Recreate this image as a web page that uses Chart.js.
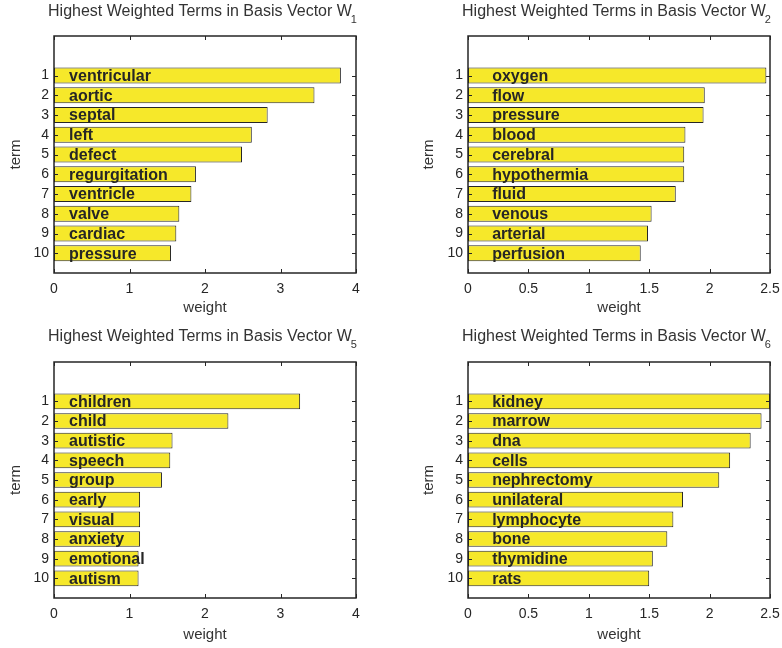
<!DOCTYPE html>
<html lang="en">
<head>
    <meta charset="UTF-8">
    <title>Highest Weighted Terms in Basis Vectors</title>
    <script src="https://cdn.jsdelivr.net/npm/chart.js"></script>
    <style>
        body {
            margin: 0;
            padding: 0;
            background: #fff;
        }

        .page {
            position: relative;
            width: 782px;
            height: 648px;
        }

        .panel {
            position: absolute;
        }
    </style>
</head>
<body>
    <div class="page">
        <div class="panel" style="left:0;top:0;"><canvas id="c1" width="391" height="320"></canvas></div>
        <div class="panel" style="left:391px;top:0;"><canvas id="c2" width="391" height="320"></canvas></div>
        <div class="panel" style="left:0;top:320px;"><canvas id="c5" width="391" height="328"></canvas></div>
        <div class="panel" style="left:391px;top:320px;"><canvas id="c6" width="391" height="328"></canvas></div>
    </div>

    <script>
        // term ranks shown on the y axis
        const rows = [1, 2, 3, 4, 5, 6, 7, 8, 9, 10];

        // W1
        const terms1 = ['ventricular', 'aortic', 'septal', 'left', 'defect', 'regurgitation', 'ventricle', 'valve', 'cardiac', 'pressure'];
        const weights1 = [3.80, 3.45, 2.83, 2.62, 2.49, 1.88, 1.82, 1.66, 1.62, 1.55];
        const xTicks1 = [0, 1, 2, 3, 4];

        // W2
        const terms2 = ['oxygen', 'flow', 'pressure', 'blood', 'cerebral', 'hypothermia', 'fluid', 'venous', 'arterial', 'perfusion'];
        const weights2 = [2.47, 1.96, 1.95, 1.80, 1.79, 1.79, 1.72, 1.52, 1.49, 1.43];
        const xTicks2 = [0, 0.5, 1, 1.5, 2, 2.5];

        // W5
        const terms5 = ['children', 'child', 'autistic', 'speech', 'group', 'early', 'visual', 'anxiety', 'emotional', 'autism'];
        const weights5 = [3.26, 2.31, 1.57, 1.54, 1.43, 1.14, 1.14, 1.14, 1.12, 1.12];
        const xTicks5 = [0, 1, 2, 3, 4];

        // W6
        const terms6 = ['kidney', 'marrow', 'dna', 'cells', 'nephrectomy', 'unilateral', 'lymphocyte', 'bone', 'thymidine', 'rats'];
        const weights6 = [2.50, 2.43, 2.34, 2.17, 2.08, 1.78, 1.70, 1.65, 1.53, 1.50];
        const xTicks6 = [0, 0.5, 1, 1.5, 2, 2.5];

        const FONT = '"Liberation Sans", Arial, Helvetica, sans-serif';
        const INK = '#262626';

        // box, inward ticks, words in the bars and the title with subscript
        const decorPlugin = {
            id: 'decor',
            afterDatasetsDraw(chart, args, opts) {
                const ctx = chart.ctx;
                const a = chart.chartArea;
                const xs = chart.scales.x;
                const ys = chart.scales.y;

                ctx.save();
                ctx.strokeStyle = INK;
                ctx.lineWidth = 1;

                // tick marks pointing in
                ctx.beginPath();
                opts.xTicks.forEach(v => {
                    const px = Math.round(xs.getPixelForValue(v)) + 0.5;
                    ctx.moveTo(px, a.bottom); ctx.lineTo(px, a.bottom - 4);
                    ctx.moveTo(px, a.top); ctx.lineTo(px, a.top + 4);
                });
                rows.forEach(v => {
                    const py = Math.round(ys.getPixelForValue(v)) + 0.5;
                    ctx.moveTo(a.left, py); ctx.lineTo(a.left + 4, py);
                    ctx.moveTo(a.right, py); ctx.lineTo(a.right - 4, py);
                });
                ctx.stroke();

                ctx.lineWidth = 1.5;
                ctx.strokeRect(a.left, a.top, a.right - a.left, a.bottom - a.top);

                // words
                ctx.fillStyle = INK;
                ctx.font = 'bold 16px ' + FONT;
                ctx.textAlign = 'left';
                ctx.textBaseline = 'middle';
                opts.terms.forEach((t, i) => {
                    ctx.fillText(t, xs.getPixelForValue(0.2), ys.getPixelForValue(rows[i]) + 1);
                });

                // title
                const main = 'Highest Weighted Terms in Basis Vector W';
                ctx.font = '16px ' + FONT;
                const w1 = ctx.measureText(main).width;
                ctx.font = '11px ' + FONT;
                const w2 = ctx.measureText(opts.sub).width;
                const cx = (a.left + a.right) / 2 - 2;
                const x0 = cx - (w1 + w2) / 2;
                ctx.fillStyle = '#333';
                ctx.textBaseline = 'alphabetic';
                ctx.font = '16px ' + FONT;
                ctx.fillText(main, x0, opts.titleY);
                ctx.font = '11px ' + FONT;
                ctx.fillText(opts.sub, x0 + w1 - 1, opts.titleY + 7);
                ctx.restore();
            }
        };

        function makeChart(id, terms, weights, xTicks, xMax, sub, p) {
            const ctx = document.getElementById(id).getContext('2d');
            return new Chart(ctx, {
                type: 'bar',
                data: {
                    datasets: [{
                        data: weights.map((w, i) => ({ x: w, y: rows[i] })),
                        backgroundColor: '#f6e82a',
                        borderColor: INK,
                        borderWidth: 1,
                        borderSkipped: false,
                        barPercentage: 1,
                        categoryPercentage: 0.8
                    }]
                },
                plugins: [decorPlugin],
                options: {
                    indexAxis: 'y',
                    responsive: false,
                    animation: false,
                    layout: {
                        padding: { top: p.top, right: p.right, left: 0, bottom: 0 }
                    },
                    scales: {
                        x: {
                            type: 'linear',
                            min: 0,
                            max: xMax,
                            grid: { display: false, drawTicks: false },
                            border: { display: false },
                            afterBuildTicks: s => { s.ticks = xTicks.map(v => ({ value: v })); },
                            afterFit: s => {
                                s.height = p.xh;
                                s.paddingLeft = 0;
                                s.paddingRight = 0;
                            },
                            ticks: {
                                padding: 8,
                                maxRotation: 0,
                                autoSkip: false,
                                color: INK,
                                font: { family: FONT, size: 14 },
                                callback: v => String(v)
                            },
                            title: {
                                display: true,
                                text: 'weight',
                                color: '#333',
                                padding: { top: 0, bottom: p.wpad },
                                font: { family: FONT, size: 15 }
                            }
                        },
                        y: {
                            type: 'linear',
                            reverse: true,
                            offset: false,
                            min: -1,
                            max: 11,
                            grid: { display: false, drawTicks: false, offset: false },
                            border: { display: false },
                            afterBuildTicks: s => { s.ticks = rows.map(v => ({ value: v })); },
                            afterFit: s => {
                                s.width = p.yw;
                                s.paddingTop = 0;
                                s.paddingBottom = 0;
                            },
                            ticks: {
                                padding: 5,
                                autoSkip: false,
                                color: INK,
                                font: { family: FONT, size: 14 },
                                callback: v => String(v)
                            },
                            title: {
                                display: true,
                                text: 'term',
                                color: '#333',
                                padding: { top: p.tpad, bottom: 0 },
                                font: { family: FONT, size: 15 }
                            }
                        }
                    },
                    plugins: {
                        legend: { display: false },
                        tooltip: { enabled: false },
                        decor: { terms: terms, xTicks: xTicks, sub: sub, titleY: p.titleY }
                    }
                }
            });
        }

        makeChart('c1', terms1, weights1, xTicks1, 4, '1',
            { top: 36, right: 35, yw: 54, xh: 47, tpad: 7, wpad: 3, titleY: 16 });
        makeChart('c2', terms2, weights2, xTicks2, 2.5, '2',
            { top: 36, right: 12, yw: 77, xh: 47, tpad: 29, wpad: 3, titleY: 16 });
        makeChart('c5', terms5, weights5, xTicks5, 4, '5',
            { top: 42, right: 35, yw: 54, xh: 50, tpad: 7, wpad: 4, titleY: 21 });
        makeChart('c6', terms6, weights6, xTicks6, 2.5, '6',
            { top: 42, right: 12, yw: 77, xh: 50, tpad: 29, wpad: 4, titleY: 21 });
    </script>
</body>
</html>
